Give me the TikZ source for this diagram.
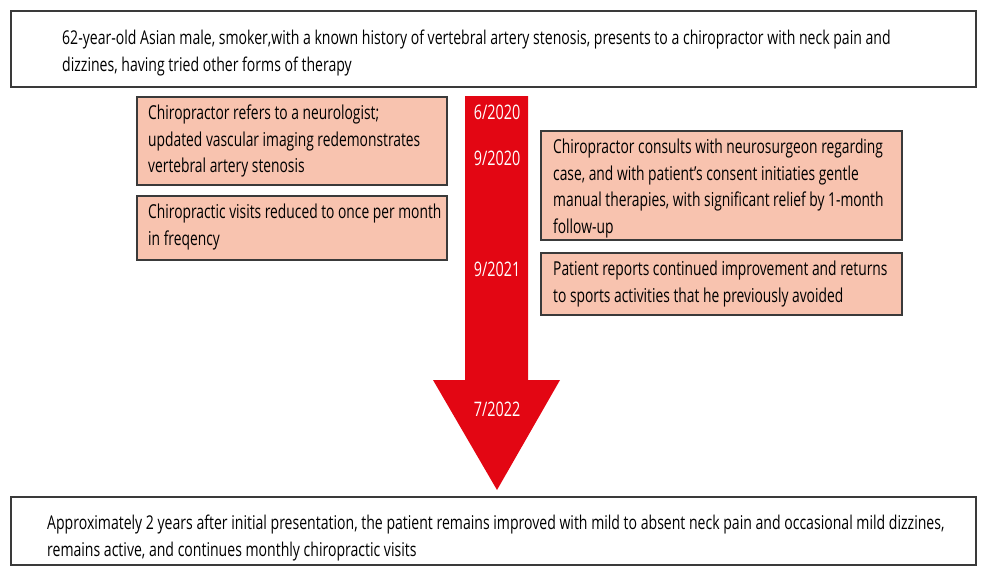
\documentclass[tikz,border=0pt]{standalone}
\usepackage{fontspec}
\setmainfont{Open Sans}
\newfontfamily\condA[FakeStretch=0.74]{Open Sans}
\newfontfamily\condB[FakeStretch=0.72]{Open Sans}
\definecolor{arrowred}{HTML}{E30613}
\definecolor{salmon}{HTML}{F8C3AF}
\definecolor{boxline}{HTML}{3A3A3A}
\begin{document}
\begin{tikzpicture}[x=1pt,y=-1pt,
  whitebox/.style={draw=boxline,line width=1.3pt,fill=white},
  pinkbox/.style={draw=boxline,line width=1.1pt,fill=salmon},
  boxtext/.style={anchor=north west,inner sep=0pt,align=left,font=\condA\fontsize{19}{27}\selectfont},
  pinktext/.style={anchor=north west,inner sep=0pt,align=left,font=\condB\fontsize{19.2}{26.5}\selectfont},
  datetext/.style={text=white,inner sep=0pt,font=\condB\fontsize{20}{22}\selectfont}]
\useasboundingbox (0,0) rectangle (1000,576);
% top box
\draw[whitebox] (11,11) rectangle (976,87);
\node[boxtext] (top) at (62,30) {62-year-old Asian male, smoker,with a known history of vertebral artery stenosis, presents to a chiropractor with neck pain and\\dizzines, having tried other forms of therapy};
% arrow
\fill[arrowred] (465,96) -- (528,96) -- (528,380) -- (560,380) -- (497,490) -- (433,380) -- (465,380) -- cycle;
\node[datetext] (d1) at (497,112) {6/2020};
\node[datetext] (d2) at (497,158) {9/2020};
\node[datetext] (d3) at (497,269) {9/2021};
\node[datetext] (d4) at (497,409) {7/2022};
% left boxes
\draw[pinkbox] (137,97) rectangle (447,185);
\node[pinktext] (l1) at (148,105) {Chiropractor refers to a neurologist;\\updated vascular imaging redemonstrates\\vertebral artery stenosis};
\draw[pinkbox] (137,196) rectangle (447,260);
\node[pinktext] (l2) at (148,204) {Chiropractic visits reduced to once per month\\in freqency};
% right boxes
\draw[pinkbox] (541,131) rectangle (902,240);
\node[pinktext] (r1) at (553,139) {Chiropractor consults with neurosurgeon regarding\\case, and with patient’s consent initiaties gentle\\manual therapies, with significant relief by 1-month\\follow-up};
\draw[pinkbox] (541,253) rectangle (902,315);
\node[pinktext] (r2) at (553,261) {Patient reports continued improvement and returns\\to sports activities that he previously avoided};
% bottom box
\draw[whitebox] (11,497) rectangle (976,565);
\node[boxtext] (bot) at (47,515) {Approximately 2 years after initial presentation, the patient remains improved with mild to absent neck pain and occasional mild dizzines,\\remains active, and continues monthly chiropractic visits};
\end{tikzpicture}
\end{document}
